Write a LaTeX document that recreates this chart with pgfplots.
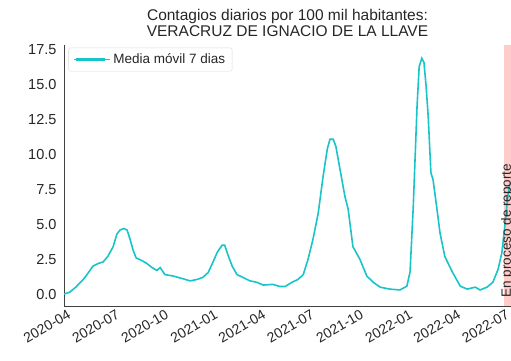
\documentclass[border=0pt]{standalone}
\usepackage{fontspec}
\setmainfont{Liberation Sans}
\usepackage{pgfplots}
\pgfplotsset{compat=1.18}
\definecolor{turq}{RGB}{25,196,200}
\definecolor{tickgray}{RGB}{38,38,38}
\definecolor{bandpink}{RGB}{255,204,204}
\begin{document}
\begin{tikzpicture}[x=1pt,y=1pt]
\path[use as bounding box] (0,0) rectangle (511,360);
\begin{axis}[
  at={(64pt,54pt)}, anchor=south west,
  scale only axis, width=447pt, height=261pt,
  xmin=0, xmax=837, ymin=-0.85, ymax=17.85,
  axis x line*=bottom, axis y line*=left,
  axis line style={draw=black!75, line width=0.9pt},
  major tick length=0pt,
  xtick={0,91,183,275,365,456,548,640,730,821},
  xticklabels={2020-04,2020-07,2020-10,2021-01,2021-04,2021-07,2021-10,2022-01,2022-04,2022-07},
  xticklabel style={rotate=30, anchor=north east, font=\fontsize{14}{16}\selectfont, text=tickgray, inner sep=2pt, yshift=-2pt, xshift=3pt},
  ytick={0,2.5,5,7.5,10,12.5,15,17.5},
  yticklabel style={font=\fontsize{14.5}{16}\selectfont, text=tickgray, xshift=-4pt},
  /pgf/number format/.cd, fixed, fixed zerofill, precision=1, assume math mode=true,
  /pgfplots/.cd,
  title={Contagios diarios por 100 mil habitantes:\\VERACRUZ DE IGNACIO DE LA LLAVE},
  title style={align=center, font=\fontsize{15.5}{16}\selectfont, text=tickgray, yshift=-1pt},
  legend style={at={(0.01,0.99)}, anchor=north west, draw=black!15, rounded corners=2pt, font=\fontsize{13.5}{15}\selectfont, inner xsep=5pt, inner ysep=4pt},
  legend image code/.code={\path (0pt,0pt) -- (36pt,0pt); \fill[turq, rounded corners=0pt] (2pt,-0.9pt) rectangle (30pt,0.9pt);},
  legend cell align=left,
  clip=false,
]
\addplot[fill=bandpink, draw=none, forget plot] coordinates {(824,-0.85) (837,-0.85) (837,17.85) (824,17.85)} -- cycle;
\addplot[color=turq, line width=1.6pt] coordinates {
(0,0.0) (11,0.15) (22,0.5) (36,1.05) (45,1.5) (54,2.0) (64,2.2) (73,2.3) (82,2.7) (92,3.4)
(99,4.3) (105,4.6) (112,4.7) (118,4.6) (124,3.9) (129,3.2) (135,2.6) (146,2.4) (155,2.2)
(165,1.9) (174,1.7) (180,1.9) (189,1.4) (204,1.3) (223,1.1) (236,0.95) (249,1.05) (260,1.2)
(270,1.55) (279,2.3) (287,3.0) (296,3.5) (301,3.5) (307,2.8) (315,2.0) (324,1.4) (335,1.2)
(348,0.95) (361,0.85) (373,0.65) (391,0.7) (404,0.55) (414,0.55) (427,0.85) (438,1.05)
(448,1.4) (457,2.5) (466,3.9) (476,5.8) (485,8.4) (493,10.4) (498,11.1) (504,11.1) (509,10.6)
(517,8.9) (526,7.0) (532,6.1) (541,3.4) (554,2.5) (567,1.3) (579,0.85) (592,0.5) (610,0.36)
(629,0.3) (642,0.57) (648,1.6) (654,6.3) (661,13.4) (665,16.3) (670,16.9) (674,16.6)
(678,14.9) (682,12.7) (687,8.7) (691,8.2) (699,5.9) (704,4.4) (713,2.7) (727,1.6) (742,0.57)
(755,0.36) (770,0.5) (779,0.3) (792,0.5) (803,0.85) (813,1.8) (820,3.0) (826,5.1) (831,7.0) (835,8.0)
};
\addlegendentry{\textcolor{tickgray}{Media móvil 7 dias}}
\node[rotate=90, anchor=west, font=\fontsize{13.5}{15}\selectfont, text=tickgray, inner sep=0pt] at (axis cs:830,-0.25) {En proceso de reporte};
\end{axis}
\end{tikzpicture}
\end{document}
